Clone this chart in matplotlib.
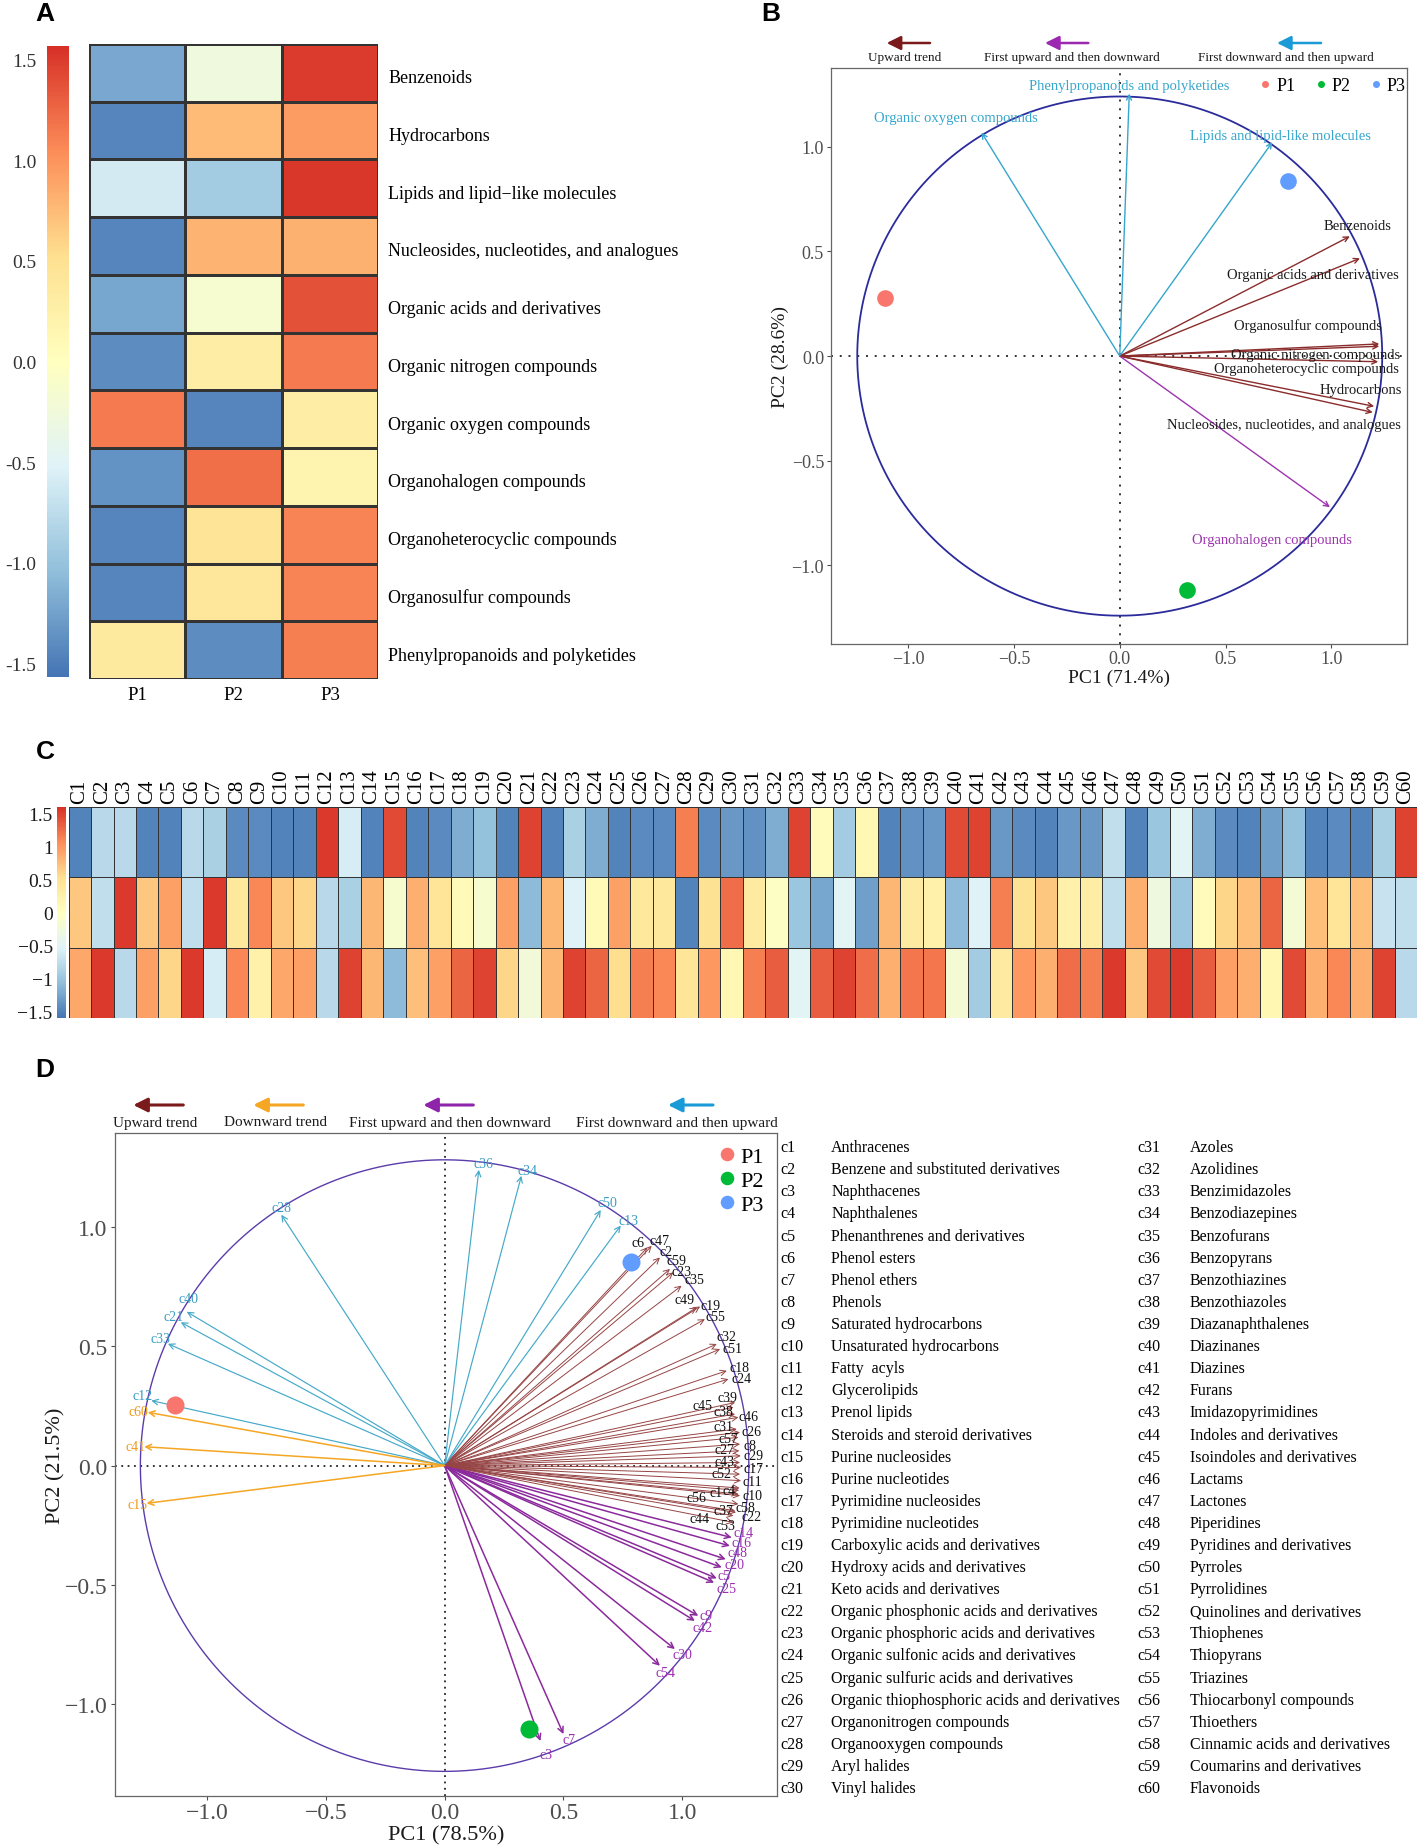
import numpy as np
import matplotlib
matplotlib.use("Agg")
import matplotlib.pyplot as plt
from matplotlib.colors import LinearSegmentedColormap

SERIF = ['Liberation Serif', 'DejaVu Serif']
SANS = ['Liberation Sans', 'DejaVu Sans']
plt.rcParams['font.family'] = SERIF
plt.rcParams['axes.unicode_minus'] = True

# ------------------------------------------------------------------ data
samples = ['P1', 'P2', 'P3']

# Panel A : row-scaled abundance of 11 superclasses
a_classes = ['Benzenoids', 'Hydrocarbons', 'Lipids and lipid\u2212like molecules',
             'Nucleosides, nucleotides, and analogues', 'Organic acids and derivatives',
             'Organic nitrogen compounds', 'Organic oxygen compounds', 'Organohalogen compounds',
             'Organoheterocyclic compounds', 'Organosulfur compounds',
             'Phenylpropanoids and polyketides']
a_p1 = [-1.20, -1.45, -0.60, -1.45, -1.22, -1.40, 1.15, -1.35, -1.45, -1.45, 0.35]
a_p2 = [-0.28, 0.75, -0.92, 0.80, -0.15, 0.30, -1.45, 1.20, 0.45, 0.40, -1.40]
a_p3 = [1.50, 0.95, 1.52, 0.82, 1.38, 1.15, 0.30, 0.18, 1.10, 1.10, 1.12]

# Panel B : PCA loadings of the 11 superclasses
b_names = ['Benzenoids', 'Hydrocarbons', 'Lipids and lipid-like molecules',
           'Nucleosides, nucleotides, and analogues', 'Organic acids and derivatives',
           'Organic nitrogen compounds', 'Organic oxygen compounds', 'Organohalogen compounds',
           'Organoheterocyclic compounds', 'Organosulfur compounds',
           'Phenylpropanoids and polyketides']
b_pc1 = [1.087, 1.202, 0.721, 1.195, 1.135, 1.226, -0.653, 0.993, 1.221, 1.226, 0.045]
b_pc2 = [0.572, -0.240, 1.022, -0.269, 0.467, 0.047, 1.068, -0.722, -0.027, 0.058, 1.254]
b_trend = ['up', 'up', 'downup', 'up', 'up', 'up', 'downup', 'updown', 'up', 'up', 'downup']
b_samp_pc1 = [-1.111, 0.318, 0.793]
b_samp_pc2 = [0.277, -1.119, 0.836]

# Panel C : row-scaled abundance of 60 classes
c_codes = ['C%d' % i for i in range(1, 61)]
c_p1 = [-1.50, -0.80, -0.80, -1.50, -1.50, -0.80, -0.90, -1.45, -1.45, -1.50,
        -1.50, 1.55, -0.60, -1.50, 1.45, -1.50, -1.45, -1.20, -1.05, -1.50,
        1.50, -1.50, -0.90, -1.20, -1.50, -1.45, -1.45, 1.15, -1.45, -1.35,
        -1.40, -1.20, 1.50, 0.05, -0.95, 0.15, -1.50, -1.40, -1.35, 1.45,
        1.50, -1.35, -1.45, -1.50, -1.35, -1.35, -0.75, -1.50, -1.00, -0.50,
        -1.20, -1.45, -1.50, -1.30, -1.05, -1.50, -1.45, -1.50, -0.90, 1.50]
c_p2 = [0.70, -0.75, 1.55, 0.70, 0.95, -0.75, 1.55, 0.40, 1.10, 0.70,
        0.60, -0.80, -0.90, 0.80, -0.15, 0.85, 0.45, 0.10, -0.15, 0.95,
        -1.10, 0.80, -0.55, 0.10, 0.95, 0.40, 0.40, -1.50, 0.50, 1.25,
        0.35, -0.05, -1.00, -1.25, -0.50, -1.30, 0.80, 0.35, 0.25, -1.10,
        -0.55, 1.15, 0.50, 0.70, 0.25, 0.30, -0.75, 0.85, -0.30, -1.00,
        0.05, 0.60, 0.75, 1.30, -0.20, 0.75, 0.45, 0.75, -0.70, -0.75]
c_p3 = [0.90, 1.55, -0.80, 0.95, 0.60, 1.55, -0.60, 1.10, 0.25, 0.90,
        0.95, -0.80, 1.50, 0.80, -1.10, 0.75, 0.95, 1.30, 1.50, 0.60,
        -0.25, 0.80, 1.50, 1.30, 0.55, 1.15, 1.10, 0.45, 1.00, 0.15,
        1.15, 1.35, -0.50, 1.35, 1.50, 1.25, 0.85, 1.20, 1.20, -0.20,
        -0.95, 0.35, 1.00, 0.85, 1.25, 1.15, 1.55, 0.70, 1.45, 1.55,
        1.35, 0.95, 0.85, 0.15, 1.45, 0.85, 1.10, 0.85, 1.50, -0.80]

# Panel D : PCA loadings of the 60 classes
d_codes = ['c%d' % i for i in range(1, 61)]
d_names = ['Anthracenes', 'Benzene and substituted derivatives', 'Naphthacenes', 'Naphthalenes',
           'Phenanthrenes and derivatives', 'Phenol esters', 'Phenol ethers', 'Phenols',
           'Saturated hydrocarbons', 'Unsaturated hydrocarbons', 'Fatty  acyls', 'Glycerolipids',
           'Prenol lipids', 'Steroids and steroid derivatives', 'Purine nucleosides',
           'Purine nucleotides', 'Pyrimidine nucleosides', 'Pyrimidine nucleotides',
           'Carboxylic acids and derivatives', 'Hydroxy acids and derivatives',
           'Keto acids and derivatives', 'Organic phosphonic acids and derivatives',
           'Organic phosphoric acids and derivatives', 'Organic sulfonic acids and derivatives',
           'Organic sulfuric acids and derivatives', 'Organic thiophosphoric acids and derivatives',
           'Organonitrogen compounds', 'Organooxygen compounds', 'Aryl halides', 'Vinyl halides',
           'Azoles', 'Azolidines', 'Benzimidazoles', 'Benzodiazepines', 'Benzofurans',
           'Benzopyrans', 'Benzothiazines', 'Benzothiazoles', 'Diazanaphthalenes', 'Diazinanes',
           'Diazines', 'Furans', 'Imidazopyrimidines', 'Indoles and derivatives',
           'Isoindoles and derivatives', 'Lactams', 'Lactones', 'Piperidines',
           'Pyridines and derivatives', 'Pyrroles', 'Pyrrolidines', 'Quinolines and derivatives',
           'Thiophenes', 'Thiopyrans', 'Triazines', 'Thiocarbonyl compounds', 'Thioethers',
           'Cinnamic acids and derivatives', 'Coumarins and derivatives', 'Flavonoids']
d_pc1 = [1.239, 0.906, 0.403, 1.241, 1.145, 0.853, 0.500, 1.243, 1.067, 1.243,
         1.247, -1.234, 0.741, 1.208, -1.254, 1.200, 1.247, 1.187, 1.075, 1.166,
         -1.110, 1.226, 0.962, 1.194, 1.134, 1.243, 1.240, -0.687, 1.246, 0.969,
         1.229, 1.145, -1.164, 0.323, 0.997, 0.144, 1.222, 1.222, 1.222, -1.085,
         -1.264, 1.053, 1.243, 1.215, 1.215, 1.236, 0.871, 1.183, 1.061, 0.657,
         1.159, 1.243, 1.215, 0.906, 1.095, 1.236, 1.236, 1.236, 0.948, -1.249]
d_pc2 = [-0.104, 0.871, -1.153, -0.094, -0.472, 0.913, -1.124, 0.090, -0.629, -0.126,
         -0.063, 0.272, 1.005, -0.301, -0.158, -0.336, -0.008, 0.397, 0.666, -0.426,
         0.600, -0.196, 0.809, 0.362, -0.490, 0.139, 0.062, 1.050, 0.041, -0.768,
         0.153, 0.509, 0.510, 1.213, 0.753, 1.238, -0.189, 0.216, 0.264, 0.644,
         0.079, -0.650, 0.013, -0.210, 0.244, 0.202, 0.920, -0.392, 0.662, 1.070,
         0.488, -0.036, -0.238, -0.838, 0.613, -0.119, 0.118, -0.161, 0.823, 0.223]
d_trend = ['up', 'up', 'updown', 'up', 'updown', 'up', 'updown', 'up', 'updown', 'up',
           'up', 'downup', 'downup', 'updown', 'down', 'updown', 'up', 'up', 'up', 'updown',
           'downup', 'up', 'up', 'up', 'updown', 'up', 'up', 'downup', 'up', 'updown',
           'up', 'up', 'downup', 'downup', 'up', 'downup', 'up', 'up', 'up', 'downup',
           'down', 'updown', 'up', 'up', 'up', 'up', 'up', 'updown', 'up', 'downup',
           'up', 'up', 'up', 'updown', 'up', 'up', 'up', 'up', 'up', 'down']
d_samp_pc1 = [-1.134, 0.353, 0.786]
d_samp_pc2 = [0.252, -1.104, 0.851]

# ------------------------------------------------------------------ styles / layout
W, H = 1419, 1849
fig = plt.figure(figsize=(W / 100, H / 100), dpi=100)


def box(x0, y0, x1, y1):
    return [x0 / W, 1 - y1 / H, (x1 - x0) / W, (y1 - y0) / H]


cmap = LinearSegmentedColormap.from_list(
    'rdylbu', ['#4575B4', '#91BFDB', '#E0F3F8', '#FFFFBF', '#FEE090', '#FC8D59', '#D73027'])
samp_col = ['#F8766D', '#00BA38', '#619CFF']
GRAY = '#4D4D4D'

# label offsets (pixels) for arrow tips
b_off = {'Benzenoids': (8, 11), 'Hydrocarbons': (-13, 17), 'Lipids and lipid-like molecules': (8, 7),
         'Nucleosides, nucleotides, and analogues': (-89, -12),
         'Organic acids and derivatives': (-47, -16), 'Organic nitrogen compounds': (-64, -8),
         'Organic oxygen compounds': (-26, 15), 'Organohalogen compounds': (-58, -32),
         'Organoheterocyclic compounds': (-72, -7), 'Organosulfur compounds': (-71, 19),
         'Phenylpropanoids and polyketides': (0, 8)}
d_off = {'c6': (-9, 5), 'c47': (8, 5), 'c2': (6, 6), 'c59': (7, 8), 'c23': (8, 1), 'c35': (13, 6),
         'c49': (-12, 8), 'c19': (10, 1), 'c55': (11, 3), 'c32': (10, 7), 'c51': (12, 1),
         'c18': (13, 3), 'c24': (13, 1), 'c39': (-8, 5), 'c45': (-31, 2), 'c38': (-12, 2),
         'c46': (10, 1), 'c31': (-13, 3), 'c26': (11, 1), 'c57': (-10, -1), 'c8': (10, -1),
         'c27': (-15, 1), 'c29': (13, 0), 'c43': (-16, 1), 'c17': (12, -1), 'c52': (-19, 1),
         'c11': (11, -1), 'c56': (-42, -3), 'c1': (-23, -2), 'c4': (-11, -2), 'c10': (12, 0),
         'c58': (7, -3), 'c37': (-12, 0), 'c22': (16, -4), 'c44': (-34, -3), 'c53': (-8, -3),
         'c14': (12, 5), 'c16': (12, 3), 'c48': (12, 7), 'c20': (13, 3), 'c5': (7, 3),
         'c25': (12, -6), 'c9': (8, 0), 'c42': (8, -7), 'c30': (8, -5), 'c54': (6, -7),
         'c7': (6, -5), 'c3': (6, -13), 'c28': (0, 7), 'c40': (2, 13), 'c21': (-7, 6),
         'c33': (-8, 5), 'c12': (-9, 5), 'c36': (5, 6), 'c34': (6, 5), 'c50': (7, 7),
         'c13': (8, 5), 'c60': (-9, 1), 'c41': (-9, 0), 'c15': (-9, -1)}

# ------------------------------------------------------------------ Panel A
axA = fig.add_axes(box(88.7, 44.9, 378.4, 680))
A = np.array([a_p1, a_p2, a_p3]).T
meshA = axA.pcolormesh(np.arange(4), np.arange(len(a_classes) + 1), A, cmap=cmap,
                       vmin=-1.567, vmax=1.567, edgecolors='#333333', linewidth=0.9)
axA.set_xlim(0, 3)
axA.set_ylim(len(a_classes), 0)
axA.set_xticks(np.arange(3) + 0.5)
axA.set_xticklabels(samples, fontsize=13.5)
axA.set_yticks(np.arange(len(a_classes)) + 0.55)
axA.set_yticklabels(a_classes, fontsize=13)
axA.yaxis.tick_right()
axA.tick_params(axis='x', length=0, pad=5)
axA.tick_params(axis='y', length=0, pad=7)
for s in axA.spines.values():
    s.set_visible(False)

caxA = fig.add_axes(box(47.3, 47.3, 68.6, 677.6))
cbA = fig.colorbar(meshA, cax=caxA)
cbA.outline.set_visible(False)
caxA.yaxis.set_ticks_position('left')
cbA.set_ticks([1.5, 1.0, 0.5, 0.0, -0.5, -1.0, -1.5])
cbA.set_ticklabels(['1.5', '1.0', '0.5', '0.0', '-0.5', '-1.0', '-1.5'])
caxA.tick_params(length=0, labelsize=14, pad=8, labelcolor='#333333')

# ------------------------------------------------------------------ Panel B
axB = fig.add_axes(box(831, 68.6, 1407, 644.5))
axB.set_xlim(-1.364, 1.357)
axB.set_ylim(-1.373, 1.378)
th = np.linspace(0, 2 * np.pi, 500)
rB = 1.24
axB.plot(rB * np.cos(th), rB * np.sin(th), color='#2B2B9B', lw=1.3, zorder=2)
axB.axhline(0, color='#333333', ls=(0, (1, 3.5)), lw=1.4, zorder=1)
axB.axvline(0, color='#333333', ls=(0, (1, 3.5)), lw=1.4, zorder=1)
b_line = {'up': '#8B2C2C', 'updown': '#9C34AE', 'downup': '#36A6CC'}
b_text = {'up': '#1A1A1A', 'updown': '#9C34AE', 'downup': '#36A6CC'}
for nm, x, y, t in zip(b_names, b_pc1, b_pc2, b_trend):
    axB.annotate('', xy=(x, y), xytext=(0, 0),
                 arrowprops=dict(arrowstyle='->', color=b_line[t], lw=1.0,
                                 shrinkA=0, shrinkB=0, mutation_scale=9), zorder=3)
    axB.annotate(nm, xy=(x, y), xytext=b_off[nm], textcoords='offset pixels',
                 ha='center', va='center', fontsize=10.5, color=b_text[t], zorder=4)
for s, x, y, c in zip(samples, b_samp_pc1, b_samp_pc2, samp_col):
    axB.plot([x], [y], 'o', color=c, ms=12, mec='none', label=s, zorder=5)
axB.legend(loc='center right', bbox_to_anchor=(1.01, 0.969), ncol=3, frameon=False,
           fontsize=13, markerscale=0.42, handletextpad=0.1, columnspacing=0.9,
           handlelength=1.0, borderaxespad=0)
axB.set_xticks([-1.0, -0.5, 0.0, 0.5, 1.0])
axB.set_yticks([-1.0, -0.5, 0.0, 0.5, 1.0])
axB.tick_params(length=3, width=0.8, color=GRAY, labelcolor=GRAY, labelsize=13, pad=2)
for s in axB.spines.values():
    s.set_color('#666666')
    s.set_linewidth(0.9)
axB.set_xlabel('PC1 (71.4%)', fontsize=14, labelpad=1, color='#1A1A1A')
axB.set_ylabel('PC2 (28.6%)', fontsize=14, labelpad=2, color='#1A1A1A')

# ------------------------------------------------------------------ Panel C
axC = fig.add_axes(box(68.6, 807.7, 1417, 1019.3))
C = np.array([c_p1, c_p2, c_p3])
meshC = axC.pcolormesh(np.arange(len(c_codes) + 1), np.arange(4), C, cmap=cmap,
                       vmin=-1.61, vmax=1.61, edgecolors='#333333', linewidth=0.7)
axC.set_xlim(0, len(c_codes))
axC.set_ylim(3, 0)
axC.set_xticks(np.arange(len(c_codes)) + 0.5)
axC.set_xticklabels(c_codes, rotation=90, fontsize=15)
axC.xaxis.tick_top()
axC.set_yticks([])
axC.tick_params(length=0, pad=3)
for s in axC.spines.values():
    s.set_visible(False)

caxC = fig.add_axes(box(56.8, 807.7, 66.2, 1019.3))
cbC = fig.colorbar(meshC, cax=caxC)
cbC.outline.set_visible(False)
caxC.yaxis.set_ticks_position('left')
cbC.set_ticks([1.5, 1, 0.5, 0, -0.5, -1, -1.5])
cbC.set_ticklabels(['1.5', '1', '0.5', '0', '\u22120.5', '\u22121', '\u22121.5'])
caxC.tick_params(length=0, labelsize=14, pad=3, labelcolor='#1A1A1A')

# ------------------------------------------------------------------ Panel D
axD = fig.add_axes(box(114.7, 1134.3, 776.9, 1796.5))
axD.set_xlim(-1.388, 1.398)
axD.set_ylim(-1.381, 1.391)
rD = 1.28
axD.plot(rD * np.cos(th), rD * np.sin(th), color='#5B3CAB', lw=1.0, zorder=2)
axD.axhline(0, color='#222222', ls=(0, (1, 2.5)), lw=1.3, zorder=1)
axD.axvline(0, color='#222222', ls=(0, (1, 2.5)), lw=1.3, zorder=1)
d_line = {'up': '#964444', 'down': '#F5A623', 'updown': '#8B2A9C', 'downup': '#45A9C9'}
d_lw = {'up': 0.7, 'down': 1.1, 'updown': 1.1, 'downup': 0.85}
d_text = {'up': '#111111', 'down': '#EE9A1A', 'updown': '#9B2FAE', 'downup': '#3A9DC4'}
for cd, x, y, t in zip(d_codes, d_pc1, d_pc2, d_trend):
    axD.annotate('', xy=(x, y), xytext=(0, 0),
                 arrowprops=dict(arrowstyle='->', color=d_line[t], lw=d_lw[t],
                                 shrinkA=0, shrinkB=0, mutation_scale=10), zorder=3)
    axD.annotate(cd, xy=(x, y), xytext=d_off[cd], textcoords='offset pixels',
                 ha='center', va='center', fontsize=10, color=d_text[t], zorder=4)
for s, x, y, c in zip(samples, d_samp_pc1, d_samp_pc2, samp_col):
    axD.plot([x], [y], 'o', color=c, ms=13, mec='none', label=s, zorder=5)
axD.legend(loc='upper right', bbox_to_anchor=(1.0, 1.0), frameon=False, fontsize=16,
           markerscale=0.75, handletextpad=0.1, labelspacing=0.15, handlelength=1.0,
           borderaxespad=0.2)
axD.set_xticks([-1.0, -0.5, 0.0, 0.5, 1.0])
axD.set_yticks([-1.0, -0.5, 0.0, 0.5, 1.0])
axD.tick_params(length=3, width=0.8, color=GRAY, labelcolor=GRAY, labelsize=17, pad=2)
for s in axD.spines.values():
    s.set_color('#666666')
    s.set_linewidth(0.9)
axD.set_xlabel('PC1 (78.5%)', fontsize=16, labelpad=1, color='#1A1A1A')
axD.set_ylabel('PC2 (21.5%)', fontsize=16, labelpad=0, color='#1A1A1A')

# ------------------------------------------------------------------ overlay: letters, trend keys, code list
ov = fig.add_axes([0, 0, 1, 1])
ov.set_xlim(0, W)
ov.set_ylim(H, 0)
ov.axis('off')

for letter, x, y in [('A', 45, 14), ('B', 771, 14), ('C', 45, 752), ('D', 45, 1070)]:
    ov.text(x, y, letter, fontsize=19, fontweight='bold', family=SANS, ha='center', va='center')


def trend_key(x_head, x_tail, y_arrow, x_text, y_text, text, color, fs, lw):
    ov.annotate('', xy=(x_head, y_arrow), xytext=(x_tail, y_arrow),
                arrowprops=dict(arrowstyle='-|>,head_width=0.35,head_length=0.7', color=color,
                                lw=lw, shrinkA=0, shrinkB=0, mutation_scale=12))
    ov.text(x_text, y_text, text, fontsize=fs, ha='center', va='center', color='#1A1A1A')


trend_key(886.7, 930, 44, 905, 58.5, 'Upward trend', '#7B1A1A', 9.5, 1.8)
trend_key(1045, 1088.3, 44, 1071.7, 58.5, 'First upward and then downward', '#9C27B0', 9.5, 1.8)
trend_key(1277, 1321, 44, 1285.4, 58.5, 'First downward and then upward', '#1A9AD6', 9.5, 1.8)

trend_key(133.3, 183.3, 1106, 155.5, 1123, 'Upward trend', '#7B1A1A', 11, 2.2)
trend_key(253.3, 303.3, 1106, 276, 1123, 'Downward trend', '#F5A623', 11, 2.2)
trend_key(423.3, 473.3, 1106, 450, 1123, 'First upward and then downward', '#8E24AA', 11, 2.2)
trend_key(668, 713, 1106, 677, 1123, 'First downward and then upward', '#1A9AD6', 11, 2.2)

for i, (cd, nm) in enumerate(zip(d_codes, d_names)):
    col, row = divmod(i, 30)
    y = 1148.2 + row * 22.1
    xc = 780.5 if col == 0 else 1137.6
    xn = 831.3 if col == 0 else 1189.6
    ov.text(xc, y, cd, fontsize=11.5, ha='left', va='center')
    ov.text(xn, y, nm, fontsize=11.5, ha='left', va='center')

fig.savefig('out.png', dpi=100)
